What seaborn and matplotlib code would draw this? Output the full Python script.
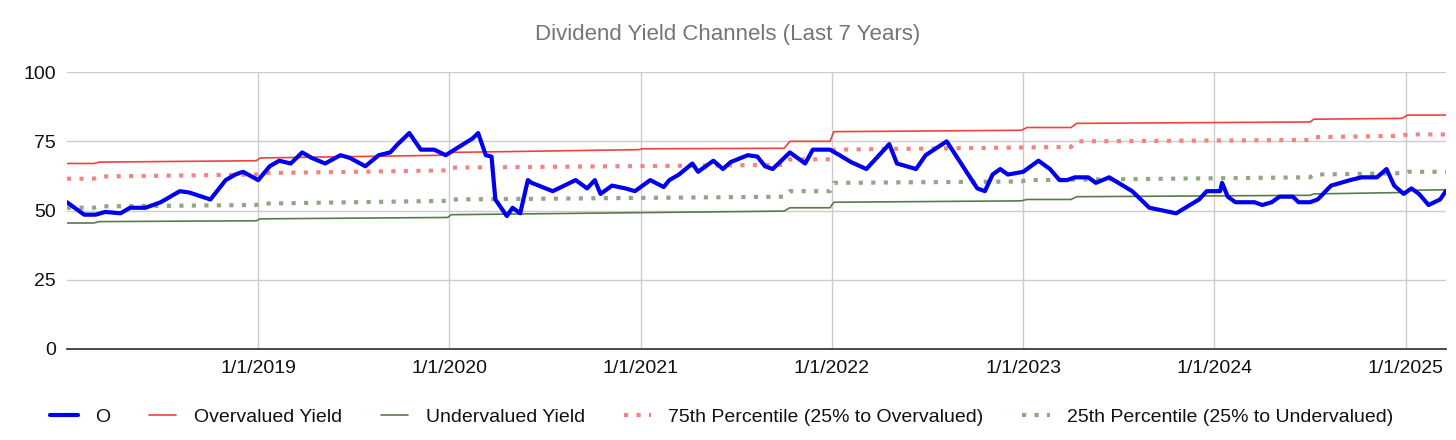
import matplotlib
matplotlib.use('Agg')
import matplotlib.pyplot as plt
import matplotlib.dates as mdates
import seaborn as sns
import pandas as pd

# dates as fractional years
o_years = [2018.00, 2018.09, 2018.15, 2018.20, 2018.28, 2018.33, 2018.41, 2018.49, 2018.54, 2018.59,
           2018.64, 2018.75, 2018.83, 2018.88, 2018.92, 2019.00, 2019.06, 2019.11, 2019.17, 2019.23,
           2019.28, 2019.35, 2019.43, 2019.48, 2019.56, 2019.63, 2019.69, 2019.73, 2019.79, 2019.85,
           2019.92, 2019.98, 2020.05, 2020.12, 2020.15, 2020.19, 2020.22, 2020.24, 2020.30, 2020.33,
           2020.37, 2020.41, 2020.43, 2020.54, 2020.66, 2020.72, 2020.76, 2020.79, 2020.85, 2020.92,
           2020.97, 2021.05, 2021.12, 2021.15, 2021.20, 2021.27, 2021.30, 2021.38, 2021.43, 2021.47,
           2021.56, 2021.61, 2021.65, 2021.69, 2021.75, 2021.78, 2021.86, 2021.90, 2021.99, 2022.04,
           2022.10, 2022.18, 2022.30, 2022.34, 2022.44, 2022.49, 2022.60, 2022.76, 2022.80, 2022.84,
           2022.88, 2022.92, 2023.00, 2023.08, 2023.14, 2023.19, 2023.23, 2023.27, 2023.34, 2023.38,
           2023.45, 2023.57, 2023.66, 2023.80, 2023.92, 2023.96, 2024.03, 2024.04, 2024.07, 2024.11,
           2024.21, 2024.25, 2024.30, 2024.34, 2024.41, 2024.44, 2024.50, 2024.54, 2024.61, 2024.71,
           2024.77, 2024.85, 2024.90, 2024.94, 2024.99, 2025.03, 2025.07, 2025.12, 2025.18, 2025.21]
o_values = [53, 48.5, 48.5, 49.5, 49, 51, 51, 53, 55, 57,
            56.5, 54, 61, 63, 64, 61, 66, 68, 67, 71,
            69, 67, 70, 69, 66, 70, 71, 74, 78, 72,
            72, 70, 73, 76, 78, 70, 69.5, 54, 48, 51,
            49, 61, 60, 57, 61, 58, 61, 56, 59, 58,
            57, 61, 58.5, 61, 63, 67, 64, 68, 65, 67.5,
            70, 69.5, 66, 65, 69, 71, 67, 72, 72, 70,
            67.5, 65, 74, 67, 65, 70, 75, 58, 57, 63,
            65, 63, 64, 68, 65, 61, 61, 62, 62, 60,
            62, 57, 51, 49, 54, 57, 57, 60, 55, 53,
            53, 52, 53, 55, 55, 53, 53, 54, 59, 61,
            62, 62, 65, 59, 56, 58, 56, 52, 54, 57]

over_years = [2018.00, 2018.14, 2018.17, 2018.99, 2019.01, 2019.99, 2020.01, 2020.99, 2021.01, 2021.75,
              2021.78, 2021.99, 2022.01, 2022.99, 2023.02, 2023.25, 2023.28, 2024.50, 2024.52, 2024.98,
              2025.01, 2025.21]
over_values = [67, 67, 67.5, 68, 69, 70, 71, 72, 72.3, 72.5,
               75, 75, 78.5, 79, 80, 80, 81.5, 82, 83, 83.3,
               84.5, 84.5]

p75_years = [2018.00, 2018.14, 2018.17, 2018.99, 2019.01, 2019.99, 2020.01, 2021.75, 2021.78, 2021.99,
             2022.01, 2023.25, 2023.28, 2024.50, 2024.52, 2024.98, 2025.01, 2025.21]
p75_values = [61.5, 61.5, 62.3, 63, 63.5, 64.5, 65.5, 66.5, 68.5, 68.5,
              72, 73, 75, 75.5, 76.5, 77, 77.5, 77.5]

under_years = [2018.00, 2018.14, 2018.17, 2018.99, 2019.01, 2019.99, 2020.01, 2021.75, 2021.78, 2021.99,
               2022.01, 2022.99, 2023.02, 2023.25, 2023.28, 2024.50, 2024.52, 2024.98, 2025.01, 2025.21]
under_values = [45.5, 45.5, 46, 46.3, 47, 47.5, 48.5, 49.8, 51, 51,
                53, 53.5, 54, 54, 55, 55.5, 56, 56.5, 57.3, 57.5]

p25_years = [2018.00, 2018.14, 2018.17, 2018.99, 2019.01, 2019.99, 2020.01, 2021.75, 2021.78, 2021.99,
             2022.01, 2022.99, 2023.02, 2024.50, 2024.52, 2024.98, 2025.01, 2025.21]
p25_values = [51, 51, 51.5, 52, 52.5, 53.5, 54, 55, 57, 57,
              60, 60.5, 61, 62, 63, 63.5, 64, 64]


def to_dates(years):
    return [pd.Timestamp('2018-01-01') + pd.Timedelta(days=(y - 2018) * 365.25) for y in years]


sns.set_theme(style='white')
plt.rcParams['font.family'] = ['Liberation Sans', 'DejaVu Sans']

fig = plt.figure(figsize=(14.56, 4.4), dpi=100)
ax = fig.add_axes([0.046, 0.207, 0.947, 0.629])

sns.lineplot(x=to_dates(over_years), y=over_values, ax=ax, color='#f0413f', lw=1.2, label='Overvalued Yield')
sns.lineplot(x=to_dates(under_years), y=under_values, ax=ax, color='#587b4c', lw=1.2, label='Undervalued Yield')
sns.lineplot(x=to_dates(p75_years), y=p75_values, ax=ax, color='#f38483', lw=3, ls=(0, (1, 2)),
             label='75th Percentile (25% to Overvalued)')
sns.lineplot(x=to_dates(p25_years), y=p25_values, ax=ax, color='#8fa784', lw=3, ls=(0, (1, 2)),
             label='25th Percentile (25% to Undervalued)')
sns.lineplot(x=to_dates(o_years), y=o_values, ax=ax, color='#0000ee', lw=3, label='O')

ax.set_xlim(pd.Timestamp('2018-01-01'), to_dates([2025.21])[0])
ax.set_ylim(0, 100)
ax.set_yticks([0, 25, 50, 75, 100])
ax.xaxis.set_major_locator(mdates.YearLocator())
ax.xaxis.set_major_formatter(mdates.DateFormatter('1/1/%Y'))
ax.grid(True, color='#cccccc', lw=1)
for s in ['top', 'right', 'left']:
    ax.spines[s].set_visible(False)
ax.spines['bottom'].set_color('#333333')
ax.tick_params(axis='both', labelsize=14, length=0, pad=8, labelcolor='#111111')
ax.set_xticks([t for t in ax.get_xticks() if t > mdates.date2num(pd.Timestamp('2018-06-01'))])

fig.suptitle('Dividend Yield Channels (Last 7 Years)', y=0.945, fontsize=16, color='#757575')

h, l = ax.get_legend_handles_labels()
order = [4, 0, 1, 2, 3]
ax.legend([h[i] for i in order], [l[i] for i in order], loc='upper center', bbox_to_anchor=(0.475, -0.15),
          ncol=5, frameon=False, fontsize=14, handlelength=1.4, handletextpad=0.9, columnspacing=2.0,
          labelcolor='#111111')

fig.savefig('out.png', dpi=100)
